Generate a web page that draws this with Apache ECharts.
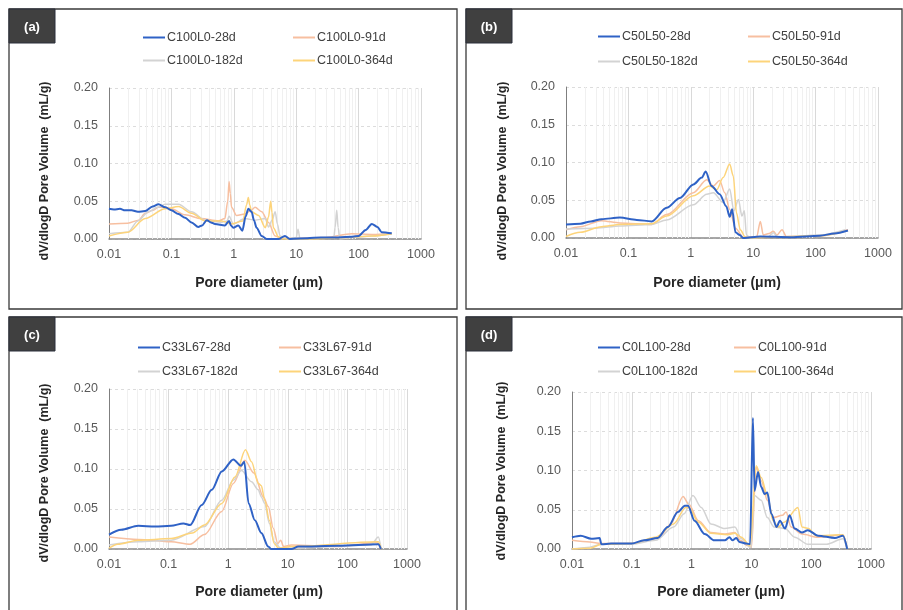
<!DOCTYPE html>
<html>
<head>
<meta charset="utf-8">
<script src="https://cdn.jsdelivr.net/npm/echarts@6/dist/echarts.min.js"></script>
<style>
  html, body { margin: 0; padding: 0; background: #fff; }
  #chart { width: 903px; height: 610px; }
</style>
</head>
<body>
<div id="chart"></div>
<script>
// ---- data: [pore diameter (um), dV/dlogD (mL/g)] ----
var a28 = [[0.01,0.040],[0.012,0.039],[0.015,0.040],[0.018,0.038],[0.023,0.038],[0.029,0.036],[0.038,0.037],[0.05,0.043],[0.062,0.046],[0.08,0.042],[0.10,0.038],[0.13,0.033],[0.166,0.028],[0.21,0.022],[0.27,0.016],[0.31,0.018],[0.37,0.025],[0.43,0.022],[0.50,0.020],[0.72,0.018],[0.84,0.024],[0.90,0.018],[0.98,0.015],[1.18,0.018],[1.37,0.011],[1.55,0.030],[1.71,0.040],[1.93,0.036],[2.1,0.025],[2.32,0.015],[2.8,0.004],[3.37,0],[5.2,0],[6.6,0.004],[7.9,0],[15,0.001],[25,0.002],[47,0.002],[80,0.003],[100,0.004],[130,0.012],[163,0.020],[200,0.016],[234,0.009],[340,0.0075]];
var a91 = [[0.01,0.020],[0.02,0.021],[0.03,0.025],[0.038,0.034],[0.05,0.038],[0.062,0.042],[0.08,0.042],[0.10,0.040],[0.166,0.032],[0.3,0.027],[0.57,0.024],[0.72,0.027],[0.80,0.050],[0.84,0.076],[0.88,0.060],[0.92,0.042],[1.11,0.031],[1.5,0.033],[1.9,0.038],[2.19,0.042],[2.8,0.036],[3.6,0.022],[4.6,0.004],[5.8,0.001],[10,0.001],[30,0.002],[78,0.007],[163,0.006],[340,0.007]];
var a182 = [[0.01,0.007],[0.02,0.009],[0.029,0.024],[0.043,0.036],[0.06,0.042],[0.079,0.046],[0.13,0.046],[0.21,0.036],[0.35,0.025],[0.64,0.022],[0.78,0.024],[0.84,0.030],[0.98,0.020],[1.5,0.027],[2.19,0.025],[3.2,0.027],[3.6,0.016],[4.1,0.025],[4.6,0.036],[5.0,0.020],[5.5,0.004],[7,0],[10,0.002],[10.7,0.013],[11.5,0],[20,0.001],[40,0.001],[42,0.015],[44.6,0.038],[47,0.015],[50,0],[80,0.002],[163,0.004],[340,0.007]];
var a364 = [[0.01,0.004],[0.02,0.009],[0.038,0.027],[0.079,0.040],[0.13,0.043],[0.21,0.034],[0.35,0.024],[0.64,0.024],[0.92,0.020],[1.4,0.024],[1.6,0.045],[1.71,0.055],[1.8,0.045],[1.93,0.036],[2.5,0.031],[3.2,0.015],[3.6,0.029],[3.9,0.050],[4.1,0.035],[4.3,0.015],[5.2,0.003],[6,0],[20,0],[60,0.002],[163,0.004],[340,0.007]];

var b28 = [[0.01,0.018],[0.017,0.019],[0.025,0.022],[0.037,0.025],[0.073,0.027],[0.136,0.024],[0.236,0.022],[0.41,0.040],[0.67,0.053],[1.1,0.071],[1.5,0.080],[1.73,0.088],[2.15,0.069],[2.9,0.058],[3.7,0.042],[4.2,0.028],[4.6,0.038],[5.2,0.0075],[6.1,0.004],[6.9,0],[13,0.002],[40,0.001],[117,0.003],[200,0.006],[330,0.010]];
var b91 = [[0.01,0.011],[0.017,0.015],[0.037,0.023],[0.073,0.020],[0.236,0.018],[0.41,0.031],[1.1,0.060],[1.8,0.077],[2.3,0.069],[2.9,0.076],[3.5,0.060],[4.2,0.038],[5.2,0.013],[6.9,0.001],[11.4,0.002],[13,0.022],[14.5,0.004],[18,0.006],[21,0.009],[24,0.004],[29,0.011],[34,0.002],[117,0.003],[330,0.011]];
var b182 = [[0.01,0.012],[0.03,0.013],[0.073,0.016],[0.236,0.018],[0.41,0.024],[1.1,0.044],[1.8,0.058],[2.3,0.060],[3.3,0.047],[4.2,0.065],[4.9,0.036],[5.8,0.051],[6.6,0.029],[7.2,0.036],[7.8,0.004],[9,0],[17,0.001],[21,0.007],[25,0.001],[117,0.004],[300,0.011]];
var b364 = [[0.01,0.002],[0.017,0.0075],[0.037,0.015],[0.073,0.018],[0.236,0.019],[0.41,0.029],[1.1,0.056],[2.0,0.069],[2.6,0.064],[3.3,0.080],[4.2,0.098],[4.8,0.082],[5.4,0.033],[6.2,0.011],[7.5,0.001],[9,0],[117,0.003],[330,0.010]];

var c28 = [[0.01,0.018],[0.016,0.024],[0.031,0.029],[0.059,0.028],[0.11,0.029],[0.177,0.032],[0.23,0.030],[0.36,0.055],[0.53,0.074],[0.78,0.097],[1.22,0.112],[1.64,0.104],[1.86,0.109],[2.2,0.057],[2.8,0.036],[3.6,0.020],[4.7,0.003],[5.3,0],[11.5,0],[15,0.003],[70,0.004],[330,0.006],[365,0]];
var c91 = [[0.01,0.015],[0.031,0.012],[0.11,0.009],[0.23,0.006],[0.4,0.018],[0.78,0.047],[1.22,0.082],[1.9,0.111],[2.7,0.095],[3.9,0.065],[4.7,0.053],[5.7,0.026],[6.8,0.007],[7.6,0.011],[8.5,0.003],[11.5,0.005],[70,0.003],[310,0.008],[365,0]];
var c182 = [[0.01,0.005],[0.031,0.009],[0.11,0.011],[0.4,0.028],[0.78,0.061],[1.22,0.086],[1.67,0.098],[2.46,0.084],[3.2,0.074],[3.6,0.065],[4.1,0.057],[4.9,0.032],[5.9,0.009],[7.6,0.001],[11.5,0.001],[250,0.005],[330,0.015],[370,0]];
var c364 = [[0.01,0.001],[0.014,0.006],[0.031,0.011],[0.11,0.013],[0.25,0.020],[0.4,0.030],[0.78,0.057],[1.3,0.090],[1.95,0.124],[2.46,0.109],[3.2,0.082],[3.6,0.079],[4.1,0.061],[4.9,0.036],[5.9,0.007],[7.0,0.001],[11.5,0.003],[330,0.009],[370,0]];

var d28 = [[0.01,0.015],[0.014,0.017],[0.021,0.013],[0.029,0.014],[0.031,0.006],[0.045,0.007],[0.1,0.007],[0.16,0.011],[0.27,0.014],[0.40,0.028],[0.59,0.047],[0.77,0.055],[0.87,0.055],[1.12,0.036],[1.66,0.019],[2.4,0.011],[3.6,0.011],[4.3,0.015],[4.8,0.011],[5.6,0.014],[6.3,0.009],[8.2,0.007],[9.5,0.006],[10.6,0.167],[11.3,0.074],[12.9,0.098],[14.6,0.079],[16.6,0.070],[18.5,0.072],[21.5,0.045],[26.3,0.028],[30,0.036],[36.5,0.026],[43.5,0.043],[53,0.026],[70,0.021],[88,0.024],[130,0.017],[250,0.014],[340,0.017],[400,0]];
var d91 = [[0.01,0.011],[0.02,0.009],[0.03,0.007],[0.1,0.007],[0.22,0.012],[0.3,0.017],[0.45,0.032],[0.72,0.067],[0.9,0.057],[1.3,0.036],[2.1,0.021],[3.6,0.019],[5.3,0.021],[6.5,0.011],[8.8,0.004],[10,0.002],[12,0.104],[14.6,0.087],[18.5,0.062],[23,0.040],[33,0.043],[38,0.047],[46,0.028],[70,0.019],[130,0.015],[340,0.018],[400,0]];
var d182 = [[0.01,0],[0.018,0.002],[0.031,0.006],[0.1,0.006],[0.25,0.011],[0.5,0.028],[0.75,0.045],[1.05,0.068],[1.45,0.053],[2.1,0.032],[3.6,0.026],[5.3,0.028],[6.8,0.013],[9.8,0.002],[11.3,0.068],[14.6,0.062],[18.5,0.040],[24,0.028],[36.5,0.026],[53,0.015],[88,0.006],[180,0.006],[340,0.013],[400,0]];
var d364 = [[0.01,0],[0.02,0.001],[0.031,0.006],[0.1,0.007],[0.25,0.015],[0.5,0.032],[0.8,0.053],[0.9,0.053],[1.3,0.034],[2.1,0.020],[4.0,0.018],[5.3,0.020],[6.8,0.015],[9.5,0.004],[12,0.106],[14.6,0.091],[18.5,0.068],[23,0.036],[28,0.028],[35,0.034],[60,0.053],[70,0.028],[90,0.026],[120,0.017],[340,0.018],[400,0]];

var mixes = ['C100L0', 'C50L50', 'C33L67', 'C0L100'];
var ages = ['28d', '91d', '182d', '364d'];
var panelTags = ['(a)', '(b)', '(c)', '(d)'];
var panelData = [[a28, a91, a182, a364], [b28, b91, b182, b364], [c28, c91, c182, c364], [d28, d91, d182, d364]];
var yTicks = [0, 0.05, 0.10, 0.15, 0.20];
var minorGrid = [0.02,0.03,0.04,0.05,0.06,0.07,0.08,0.09, 0.2,0.3,0.4,0.5,0.6,0.7,0.8,0.9, 2,3,4,5,6,7,8,9, 20,30,40,50,60,70,80,90, 200,300,400,500,600,700,800,900];

// ---- layout (pixels) ----
var colors = ['#2f62c6', '#f7bfa0', '#d3d3d3', '#fdd47a'];
var widths = [2, 1.5, 1.5, 1.5];
var font = '"Liberation Sans", Arial, sans-serif';
var grids = [
    { left: 109, top: 88, width: 312, height: 151 },
    { left: 566, top: 87, width: 312, height: 151 },
    { left: 109, top: 389, width: 298, height: 160 },
    { left: 572, top: 392, width: 299, height: 157 }
];
var frames = [[9, 9, 448, 300], [466, 9, 436, 300], [9, 317, 448, 300], [466, 317, 436, 300]];
var legendPos = [
    { c1: 143, c2: 293, top: 31, gap: 10 },
    { c1: 598, c2: 748, top: 30, gap: 12 },
    { c1: 138, c2: 279, top: 341, gap: 11 },
    { c1: 598, c2: 734, top: 341, gap: 11 }
];
var yNamePos = [[45, 171], [503, 171], [45, 473], [502, 471]];
var xNamePos = [[259, 283], [717, 283], [259, 592], [721, 592]];

var myChart = echarts.init(document.getElementById('chart'));

var option = {
    backgroundColor: '#fff',
    animation: false,
    textStyle: { fontFamily: font },
    grid: [], xAxis: [], yAxis: [], legend: [], series: [], graphic: []
};

for (var p = 0; p < 4; p++) {
    option.grid.push(grids[p]);
    option.xAxis.push({
        type: 'log', logBase: 10, min: 0.01, max: 1000, gridIndex: p,
        axisLine: { lineStyle: { color: '#8c8c8c', width: 1.5 } },
        axisTick: { show: false },
        axisLabel: {
            color: '#595959', fontSize: 12.5, margin: 9, fontFamily: font,
            formatter: function (v) { return v >= 1 ? String(Math.round(v)) : String(parseFloat(v.toPrecision(2))); }
        },
        splitLine: { show: true, lineStyle: { color: '#d9d9d9', width: 1 } }
    });
    option.yAxis.push({
        type: 'value', min: yTicks[0], max: yTicks[yTicks.length - 1], interval: 0.05, gridIndex: p,
        axisLine: { show: true, lineStyle: { color: '#7f7f7f', width: 1 } },
        axisTick: { show: false },
        axisLabel: { color: '#595959', fontSize: 12.5, margin: 11, fontFamily: font, formatter: function (v) { return v.toFixed(2); } },
        splitLine: { show: true, lineStyle: { color: '#dcdcdc', width: 1, type: [3, 3] } }
    });

    var names = ages.map(function (a) { return mixes[p] + '-' + a; });
    var lg = legendPos[p];
    var legendBase = {
        orient: 'vertical', icon: 'rect', itemWidth: 22, itemHeight: 2, itemGap: lg.gap, top: lg.top, padding: 0,
        textStyle: { color: '#404040', fontSize: 12.5, fontFamily: font, padding: [0, 0, 0, -3] },
        selectedMode: false
    };
    option.legend.push(Object.assign({}, legendBase, { left: lg.c1, data: [names[0], names[2]] }));
    option.legend.push(Object.assign({}, legendBase, { left: lg.c2, data: [names[1], names[3]] }));

    for (var s = 0; s < 4; s++) {
        var ser = {
            name: names[s], type: 'line', xAxisIndex: p, yAxisIndex: p,
            data: panelData[p][s], showSymbol: false, symbol: 'none',
            smooth: 0.3, smoothMonotone: 'x',
            lineStyle: { color: colors[s], width: widths[s] },
            itemStyle: { color: colors[s] },
            z: s === 0 ? 4 : 3
        };
        if (s === 0) {
            // light minor vertical grid of the log axis
            ser.markLine = {
                silent: true, symbol: 'none', z: 1, animation: false,
                label: { show: false },
                lineStyle: { color: '#f0f0f0', width: 1, type: 'solid', opacity: 1 },
                emphasis: { disabled: true },
                data: minorGrid.map(function (v) { return { xAxis: v }; })
            };
        }
        option.series.push(ser);
    }

    var fr = frames[p];
    option.graphic.push({
        type: 'rect', silent: true, z: 0,
        shape: { x: fr[0], y: fr[1], width: fr[2], height: fr[3] },
        style: { fill: null, stroke: '#3a3a3a', lineWidth: 1.3 }
    });
    option.graphic.push({
        type: 'rect', silent: true, z: 10,
        shape: { x: fr[0], y: fr[1], width: 46, height: 34 },
        style: { fill: '#404040', stroke: '#2a2f3a', lineWidth: 1 }
    });
    option.graphic.push({
        type: 'text', silent: true, z: 11, x: fr[0] + 23, y: fr[1] + 18,
        style: { text: panelTags[p], fill: '#fff', font: 'bold 13px ' + font, align: 'center', verticalAlign: 'middle' }
    });
    option.graphic.push({
        type: 'text', silent: true, z: 11, x: yNamePos[p][0], y: yNamePos[p][1], rotation: Math.PI / 2,
        style: { text: 'dV/dlogD Pore Volume  (mL/g)', fill: '#262626', font: 'bold 12.5px ' + font, align: 'center', verticalAlign: 'middle' }
    });
    option.graphic.push({
        type: 'text', silent: true, z: 11, x: xNamePos[p][0], y: xNamePos[p][1],
        style: { text: 'Pore diameter (μm)', fill: '#262626', font: 'bold 14px ' + font, align: 'center', verticalAlign: 'middle' }
    });
}

myChart.setOption(option);
</script>
</body>
</html>
